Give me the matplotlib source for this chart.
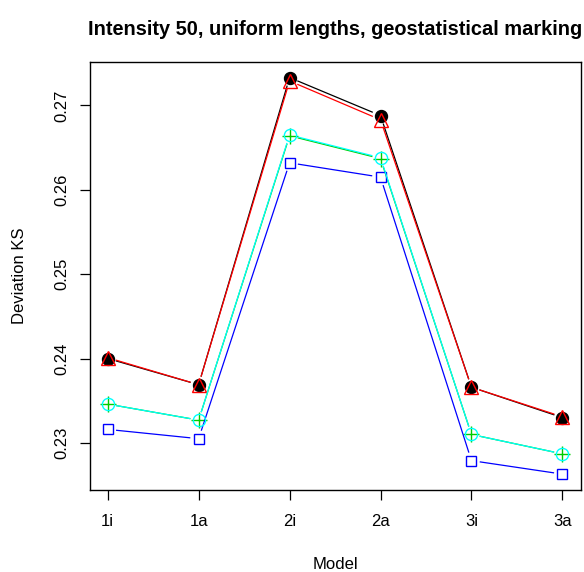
import numpy as np
import matplotlib.pyplot as plt

plt.rcParams['font.family'] = ['Liberation Sans', 'DejaVu Sans']

models = ["1i", "1a", "2i", "2a", "3i", "3a"]

# deviation KS per method
ks_black = [0.2400, 0.2369, 0.2733, 0.2688, 0.2366, 0.2330]
ks_red = [0.2401, 0.2369, 0.2729, 0.2683, 0.2366, 0.2331]
ks_green = [0.2346, 0.2327, 0.2664, 0.2637, 0.2310, 0.2287]
ks_blue = [0.2316, 0.2305, 0.2632, 0.2615, 0.2279, 0.2263]
ks_cyan = [0.2346, 0.2327, 0.2665, 0.2638, 0.2310, 0.2287]

series = [
    (ks_black, "black", dict(marker="o", ms=8.6, mfc="black", mec="black")),
    (ks_red, "red", dict(marker="^", ms=10.5, mfc="none", mec="red", mew=1.0)),
    (ks_green, "#00CD00", dict(marker="+", ms=11.5, mec="#00CD00", mew=1.0)),
    (ks_blue, "blue", dict(marker="s", ms=7.8, mfc="none", mec="blue", mew=1.0)),
    (ks_cyan, "cyan", dict(marker="o", ms=8.8, mfc="none", mec="cyan", mew=1.0)),
]

fig = plt.figure(figsize=(5.84, 5.72), dpi=100)
ax = fig.add_axes([0.1533, 0.1434, 0.8408, 0.7487])

x = np.arange(1, len(models) + 1)
allv = np.concatenate([ks_black, ks_red, ks_green, ks_blue, ks_cyan])
pad = 0.04 * (allv.max() - allv.min())
ax.set_xlim(1 - 0.2, len(models) + 0.2)
ax.set_ylim(allv.min() - pad, allv.max() + pad)

# R type="b": segments with gaps around the points
gap = 9.0
for vals, col, mk in series:
    pts = ax.transData.transform(np.column_stack([x, vals]))
    for i in range(len(pts) - 1):
        p0, p1 = pts[i], pts[i + 1]
        d = p1 - p0
        n = np.hypot(*d)
        if n <= 2 * gap:
            continue
        u = d / n
        seg = np.array([p0 + u * gap, p1 - u * gap])
        seg = ax.transData.inverted().transform(seg)
        ax.plot(seg[:, 0], seg[:, 1], color=col, lw=0.9)
    ax.plot(x, vals, linestyle="none", **mk)

ax.set_xticks(x)
ax.set_xticklabels(models)
ax.set_yticks([0.23, 0.24, 0.25, 0.26, 0.27])
ax.set_yticklabels(["0.23", "0.24", "0.25", "0.26", "0.27"], rotation=90, va="center")
ax.tick_params(axis="both", length=7.2, width=0.9, labelsize=12)
ax.tick_params(axis="x", pad=10)
ax.tick_params(axis="y", pad=7)
for s in ax.spines.values():
    s.set_linewidth(1.0)

ax.set_xlabel("Model", fontsize=12, labelpad=20)
ax.set_ylabel("Deviation KS", fontsize=12, labelpad=20)
ax.set_title("Intensity 50, uniform lengths, geostatistical marking",
             fontsize=14.4, fontweight="bold", pad=19)

fig.savefig("out.png", dpi=100)
